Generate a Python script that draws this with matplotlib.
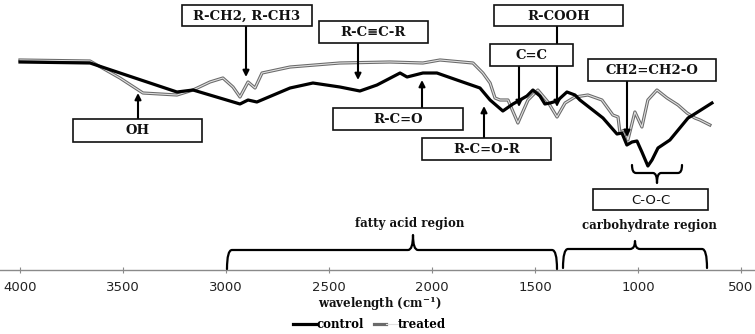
import numpy as np
import matplotlib
matplotlib.use("Agg")
import matplotlib.pyplot as plt
from matplotlib.patches import Rectangle, PathPatch
from matplotlib.path import Path
from matplotlib.lines import Line2D
from matplotlib.legend_handler import HandlerTuple

# FTIR spectra (wavenumber cm-1, relative height)
wn_control = [4000, 3660, 3238, 3160, 2932, 2893, 2850, 2689, 2578, 2447, 2350, 2267,
              2155, 2121, 2044, 1976, 1879, 1767, 1718, 1656, 1607, 1539, 1510, 1476,
              1452, 1427, 1393, 1345, 1306, 1282, 1170, 1102, 1078, 1054, 1029, 1005,
              981, 952, 932, 903, 845, 757, 733, 641]
control = [208, 207, 178, 180, 166, 170, 168, 182, 187, 183, 179, 185,
           197, 193, 197, 197, 190, 182, 170, 159, 166, 174, 180, 174,
           166, 167, 169, 178, 175, 170, 152, 136, 137, 125, 128, 129,
           118, 104, 110, 122, 130, 152, 155, 167]

wn_treated = [4000, 3660, 3515, 3403, 3238, 3160, 3078, 3015, 2966, 2932, 2893, 2859,
              2825, 2689, 2447, 2204, 2044, 1961, 1801, 1753, 1718, 1694, 1670, 1631,
              1583, 1534, 1486, 1437, 1393, 1354, 1306, 1243, 1175, 1122, 1097, 1088,
              1063, 1049, 1015, 981, 952, 908, 859, 806, 762, 724, 699, 651]
treated = [210, 209, 192, 177, 175, 180, 188, 192, 183, 173, 188, 182,
           197, 203, 207, 208, 207, 210, 207, 197, 187, 172, 170, 170,
           147, 170, 180, 168, 153, 167, 173, 175, 170, 155, 153, 138,
           140, 130, 158, 143, 170, 180, 172, 165, 157, 152, 150, 145]

ticks = [4000, 3500, 3000, 2500, 2000, 1500, 1000, 500]

serif = "DejaVu Serif"

fig = plt.figure(figsize=(7.55, 3.34), dpi=100)

# data axes
ax = fig.add_axes([0, 0, 1, 1])
ax.set_xlim(4097, 432)
ax.set_ylim(-64, 270)
ax.plot(wn_treated, treated, color="#6a6a6a", lw=2.3, solid_joinstyle="round", zorder=2)
ax.plot(wn_treated, treated, color="#e0e0e0", lw=0.8, solid_joinstyle="round", zorder=2)
ax.plot(wn_control, control, color="black", lw=2.3, solid_joinstyle="round", zorder=3)

for s in ["top", "left", "right"]:
    ax.spines[s].set_visible(False)
ax.spines["bottom"].set_position(("data", 0))
ax.spines["bottom"].set_color("#8a8a8a")
ax.spines["bottom"].set_linewidth(1.0)
ax.set_yticks([])
ax.set_xticks(ticks)
ax.tick_params(axis="x", direction="inout", length=4, color="#8a8a8a", pad=6,
               labelsize=9.5, labelcolor="#222222")
ax.patch.set_visible(False)

# overlay in pixel coordinates for the labels
ov = fig.add_axes([0, 0, 1, 1])
ov.set_xlim(0, 755)
ov.set_ylim(334, 0)
ov.axis("off")


def box(x0, y0, x1, y1, text, family=serif, size=9.5, weight="bold"):
    ov.add_patch(Rectangle((x0, y0), x1 - x0, y1 - y0, fc="white", ec="#111111",
                           lw=1.2, zorder=5))
    ov.text((x0 + x1) / 2, (y0 + y1) / 2 + 0.5, text, ha="center", va="center",
            fontsize=size, family=family, fontweight=weight, color="#111111", zorder=6)


def arrow(x, y0, y1):
    ov.annotate("", xy=(x, y1), xytext=(x, y0),
                arrowprops=dict(arrowstyle="-|>", lw=1.5, color="black",
                                mutation_scale=9, shrinkA=0, shrinkB=0), zorder=4)


# R-COOH line passes behind the C=C box
ov.plot([557, 557], [26, 60], color="black", lw=1.5, zorder=4)
arrow(557, 60, 107)
box(494, 5, 623, 26, "R-COOH")
box(490, 44, 573, 66, "C=C")
arrow(519, 66, 107)

box(182, 5, 312, 26, "R-CH2, R-CH3")
arrow(246, 26, 77)
box(319, 21, 428, 43, "R-C\u2261C-R")
arrow(358, 43, 80)
box(588, 59, 716, 81, "CH2=CH2-O")
arrow(627, 81, 137)
box(73, 119, 202, 142, "OH")
arrow(138, 119, 93)
box(333, 108, 463, 130, "R-C=O")
arrow(422, 108, 80)
box(422, 138, 551, 160, "R-C=O-R")
arrow(484, 138, 106)
box(593, 189, 708, 210, "C-O-C", family="DejaVu Sans", size=9.5, weight="normal")


def brace(x0, x1, xc, yb, yt, yc, r=5, rc=5):
    verts = [(x0, yb), (x0, yt), (x0 + r, yt),
             (xc - rc, yt), (xc, yt), (xc, yc),
             (xc, yt), (xc + rc, yt),
             (x1 - r, yt), (x1, yt), (x1, yb)]
    codes = [Path.MOVETO, Path.CURVE3, Path.CURVE3,
             Path.LINETO, Path.CURVE3, Path.CURVE3,
             Path.CURVE3, Path.CURVE3,
             Path.LINETO, Path.CURVE3, Path.CURVE3]
    ov.add_patch(PathPatch(Path(verts, codes), fc="none", ec="black", lw=1.6,
                           capstyle="round", joinstyle="round", zorder=4))


brace(227, 557, 413, 269, 250, 235)
brace(563, 707, 635, 268, 249, 241)
brace(632, 682, 657, 165, 173, 183, r=4, rc=4)

ov.text(410, 223, "fatty acid region", ha="center", va="center", fontsize=8.5,
        family=serif, fontweight="bold", color="#111111")
ov.text(649, 225, "carbohydrate region", ha="center", va="center", fontsize=8.5,
        family=serif, fontweight="bold", color="#111111")
ov.text(380, 304, r"wavelength (cm$^{\mathregular{-1}}$)", ha="center", va="center",
        fontsize=8.5, family=serif, fontweight="bold", color="#111111")

# legend
h_ctrl = Line2D([], [], color="black", lw=2.3)
h_tr_out = Line2D([], [], color="#6a6a6a", lw=2.3)
h_tr_in = Line2D([], [], color="#e0e0e0", lw=0.8)
leg = ax.legend([h_ctrl, (h_tr_out, h_tr_in)], ["control", "treated"],
                handler_map={tuple: HandlerTuple(ndivide=None, pad=0)},
                loc="center", bbox_to_anchor=(0.489, 0.027), ncol=2,
                frameon=False, handlelength=2.0, handletextpad=0.0,
                columnspacing=0.9, borderpad=0,
                prop={"family": serif, "size": 8.5, "weight": "bold"})

fig.savefig("out.png", dpi=100)
